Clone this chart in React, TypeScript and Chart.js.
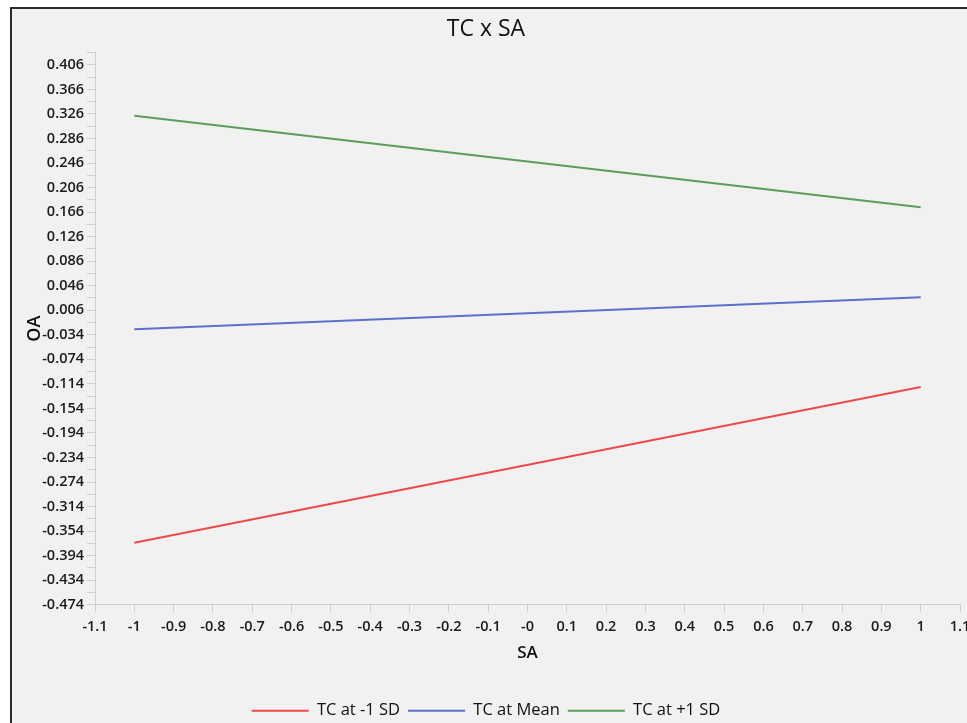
import React, { useEffect, useRef } from "react";
import { Chart, registerables } from "chart.js";

Chart.register(...registerables);

const sa = [-1, 1];
const tcLow = [-0.373, -0.119];
const tcMean = [-0.025, 0.027];
const tcHigh = [0.323, 0.174];

const seriesNames = ["TC at -1 SD", "TC at Mean", "TC at +1 SD"];
const seriesColors = ["#ee4a4a", "#5b6fcf", "#5b9e5b"];

const yTickLabels = [
  "0.406", "0.366", "0.326", "0.286", "0.246", "0.206", "0.166", "0.126",
  "0.086", "0.046", "0.006", "-0.034", "-0.074", "-0.114", "-0.154", "-0.194",
  "-0.234", "-0.274", "-0.314", "-0.354", "-0.394", "-0.434", "-0.474",
];
const xTickLabels = [
  "-1.1", "-1", "-0.9", "-0.8", "-0.7", "-0.6", "-0.5", "-0.4", "-0.3", "-0.2", "-0.1",
  "-0", "0.1", "0.2", "0.3", "0.4", "0.5", "0.6", "0.7", "0.8", "0.9", "1", "1.1",
];

const FONT = "'Open Sans', 'Noto Sans', sans-serif";

export default function App() {
  const ref = useRef<HTMLCanvasElement | null>(null);

  useEffect(() => {
    if (!ref.current) return;
    const yMajor = yTickLabels.map((s) => parseFloat(s));
    const yAll: { value: number; major: boolean; label: string }[] = [];
    yMajor.forEach((v, i) => {
      yAll.push({ value: v + 0.02, major: false, label: "" });
      yAll.push({ value: v, major: true, label: yTickLabels[i] });
    });
    const xAll = xTickLabels.map((s) => ({ value: parseFloat(s), label: s }));

    const datasets = [tcLow, tcMean, tcHigh].map((vals, i) => ({
      label: seriesNames[i],
      data: sa.map((x, j) => ({ x, y: vals[j] })),
      borderColor: seriesColors[i],
      backgroundColor: seriesColors[i],
      borderWidth: 2,
      pointRadius: 0,
      fill: false,
    }));

    const chart = new Chart(ref.current, {
      type: "line",
      data: { datasets },
      options: {
        animation: false,
        responsive: false,
        maintainAspectRatio: false,
        layout: { padding: { left: 0, right: 7, top: 0, bottom: 0 } },
        plugins: {
          title: {
            display: true,
            text: "TC x SA",
            color: "#111",
            font: { family: FONT, size: 23, weight: "normal" },
            padding: { top: 7, bottom: 9 },
          },
          legend: {
            position: "bottom",
            labels: {
              color: "#111",
              font: { family: FONT, size: 16.5 },
              boxWidth: 57,
              boxHeight: 2,
              padding: 8,
              generateLabels: (c: any) =>
                Chart.defaults.plugins.legend.labels
                  .generateLabels(c)
                  .map((l: any) => ({ ...l, lineWidth: 0 })),
            },
          },
          tooltip: { enabled: false },
        },
        scales: {
          x: {
            type: "linear",
            min: -1.1,
            max: 1.1,
            afterBuildTicks: (scale: any) => {
              scale.ticks = xAll.map((t) => ({ value: t.value, label: t.label }));
            },
            afterFit: (scale: any) => {
              scale.paddingRight = 0;
              scale.paddingLeft = 0;
            },
            ticks: {
              color: "#1a1a1a",
              font: { family: FONT, size: 14.5, weight: 600 },
              padding: 5,
              maxRotation: 0,
              autoSkip: false,
              callback: (_v: any, i: number) => xTickLabels[i],
            },
            grid: {
              drawOnChartArea: false,
              drawTicks: true,
              tickLength: 8,
              color: "#cfcfd6",
            },
            border: { display: true, color: "#cfcfd6", width: 1 },
            title: {
              display: true,
              text: "SA",
              color: "#111",
              font: { family: FONT, size: 17, weight: 600 },
              padding: { top: 3, bottom: 31 },
            },
          },
          y: {
            type: "linear",
            min: -0.474,
            max: 0.426,
            afterBuildTicks: (scale: any) => {
              scale.ticks = yAll.map((t) => ({ value: t.value }));
            },
            afterFit: (scale: any) => {
              scale.width = 83;
            },
            ticks: {
              color: "#1a1a1a",
              font: { family: FONT, size: 14.5, weight: 600 },
              padding: 3,
              autoSkip: false,
              callback: (_v: any, i: number) => (yAll[i] ? yAll[i].label : ""),
            },
            grid: {
              drawOnChartArea: false,
              drawTicks: true,
              tickLength: 8,
              color: "#cfcfd6",
            },
            border: { display: true, color: "#cfcfd6", width: 1 },
            title: {
              display: true,
              text: "OA",
              color: "#111",
              font: { family: FONT, size: 18, weight: 600 },
              padding: { top: 12, bottom: 2 },
            },
          },
        },
      },
    } as any);
    return () => chart.destroy();
  }, []);

  return (
    <div
      style={{
        position: "absolute",
        left: 10,
        top: 7,
        width: 957,
        height: 716,
        borderTop: "2px solid #2b2b2b",
        borderLeft: "2px solid #2b2b2b",
        background: "#f1f1f1",
        overflow: "hidden",
      }}
    >
      <canvas ref={ref} width={955} height={720} style={{ display: "block" }} />
    </div>
  );
}
